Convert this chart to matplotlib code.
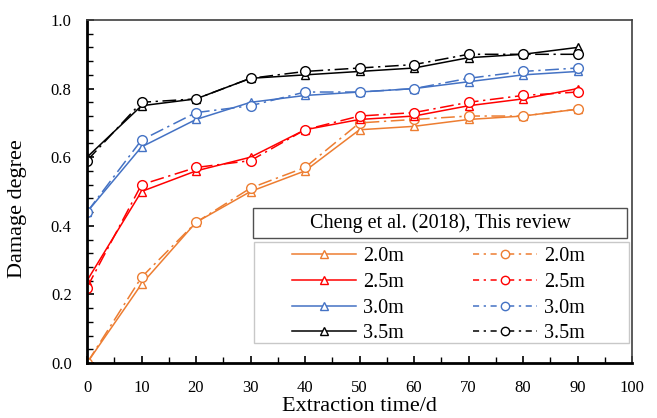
import matplotlib.pyplot as plt
from matplotlib.lines import Line2D
from matplotlib.patches import Rectangle
from matplotlib.ticker import MultipleLocator

plt.rcParams['font.family'] = ['Liberation Serif', 'DejaVu Serif']

# extraction time (d)
days = [0, 10, 20, 30, 40, 50, 60, 70, 80, 90]

# Cheng et al. (2018) - solid lines, triangles
cheng_20 = [0.00, 0.23, 0.41, 0.50, 0.56, 0.68, 0.69, 0.71, 0.72, 0.74]
cheng_25 = [0.24, 0.50, 0.56, 0.60, 0.68, 0.71, 0.72, 0.75, 0.77, 0.80]
cheng_30 = [0.44, 0.63, 0.71, 0.76, 0.78, 0.79, 0.80, 0.82, 0.84, 0.85]
cheng_35 = [0.60, 0.75, 0.77, 0.83, 0.84, 0.85, 0.86, 0.89, 0.90, 0.92]

# This review - dash-dot lines, circles
review_20 = [0.00, 0.25, 0.41, 0.51, 0.57, 0.70, 0.71, 0.72, 0.72, 0.74]
review_25 = [0.22, 0.52, 0.57, 0.59, 0.68, 0.72, 0.73, 0.76, 0.78, 0.79]
review_30 = [0.44, 0.65, 0.73, 0.75, 0.79, 0.79, 0.80, 0.83, 0.85, 0.86]
review_35 = [0.59, 0.76, 0.77, 0.83, 0.85, 0.86, 0.87, 0.90, 0.90, 0.90]

labels = ['2.0m', '2.5m', '3.0m', '3.5m']
colors = ['#ED7D31', '#FF0000', '#4472C4', '#000000']
legend_title = 'Cheng et al. (2018), This review'

W, H = 657, 418
fig = plt.figure(figsize=(W / 100, H / 100), dpi=100)
ax = fig.add_axes([87 / W, 1 - 363 / H, 545 / W, 343 / H])

dashdot = (0, (9, 3, 1.5, 3))
solid_handles = []
dash_handles = []
for lab, col, yc, yr in zip(labels, colors,
                            [cheng_20, cheng_25, cheng_30, cheng_35],
                            [review_20, review_25, review_30, review_35]):
    ax.plot(days, yc, '-', color=col, lw=1.1, marker='^', ms=6,
            mfc='white', mec=col, mew=1.0)
    ax.plot(days, yr, linestyle=dashdot, color=col, lw=1.1, marker='o', ms=7,
            mfc='white', mec=col, mew=1.0)
    solid_handles.append(Line2D([], [], color=col, lw=1.1, marker='^', ms=5.5,
                                mfc='white', mec=col, mew=1.0))
    dash_handles.append(Line2D([], [], color=col, lw=1.1, linestyle=(0, (4, 3, 1.5, 3)),
                               marker='o', ms=6, mfc='white', mec=col, mew=1.0))

ax.set_xlim(0, 100)
ax.set_ylim(0, 1.0)
ax.xaxis.set_major_locator(MultipleLocator(10))
ax.xaxis.set_minor_locator(MultipleLocator(5))
ax.yaxis.set_major_locator(MultipleLocator(0.2))
ax.yaxis.set_minor_locator(MultipleLocator(0.04))
ax.yaxis.set_major_formatter(plt.FormatStrFormatter('%.1f'))
ax.tick_params(which='both', direction='in', top=False, right=False, labelsize=12)
ax.tick_params(which='major', length=5, width=1.2)
ax.tick_params(which='minor', length=4, width=1.0)
ax.tick_params(axis='x', pad=12)
ax.tick_params(axis='y', pad=11)

for s in ['left', 'bottom']:
    ax.spines[s].set_linewidth(2.0)
    ax.spines[s].set_color('black')
for s in ['top', 'right']:
    ax.spines[s].set_linewidth(1.2)
    ax.spines[s].set_color('#404040')

ax.set_xlabel('Extraction time/d', fontsize=16, labelpad=1)
ax.set_ylabel('Damage degree', fontsize=16)
ax.yaxis.set_label_coords(27 / W, 0.5, transform=fig.transFigure)

# legend boxes (title box + entries box), placed in figure pixels
ax.add_patch(Rectangle((254 / W, 1 - 343 / H), 375 / W, 101 / H,
                       transform=fig.transFigure, fc='white', ec='#C8C8C8',
                       lw=1.0, zorder=5, clip_on=False))
ax.add_patch(Rectangle((253 / W, 1 - 238 / H), 374 / W, 30 / H,
                       transform=fig.transFigure, fc='white', ec='#505050',
                       lw=1.0, zorder=5, clip_on=False))
ax.text(440 / W, 1 - 223 / H, legend_title, transform=fig.transFigure,
        ha='center', va='center', fontsize=14.5, zorder=6)

leg = ax.legend(solid_handles + dash_handles, labels + labels, ncol=2,
                loc='upper left', bbox_to_anchor=(292 / W, 1 - 247 / H),
                bbox_transform=fig.transFigure, fontsize=14.5, frameon=False,
                handlelength=3.2, handletextpad=0.35, columnspacing=3.4,
                labelspacing=0.33, borderpad=0, borderaxespad=0)
leg.set_zorder(7)

fig.savefig('out.png', dpi=100)
